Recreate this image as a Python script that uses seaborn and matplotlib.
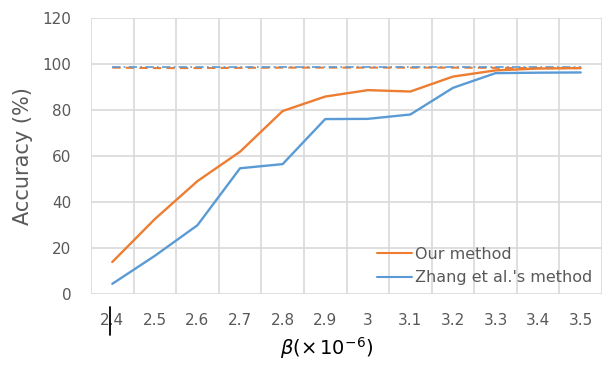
import matplotlib
matplotlib.use("Agg")
import matplotlib.pyplot as plt
import matplotlib.transforms as mtransforms
import numpy as np
import pandas as pd
import seaborn as sns

# beta values (x 10^-6) used as categories
beta_labels = ["2.4", "2.5", "2.6", "2.7", "2.8", "2.9", "3", "3.1", "3.2", "3.3", "3.4", "3.5"]

# accuracy (%) of each method
ours = [13.8, 32.5, 49.0, 61.8, 79.5, 85.8, 88.6, 88.0, 94.5, 97.2, 98.0, 98.2]
zhang = [4.3, 16.5, 29.8, 54.6, 56.4, 76.0, 76.1, 78.0, 89.6, 96.0, 96.2, 96.3]

# reference accuracy levels (dashed guides)
ours_ref = [98.4, 98.2, 98.2, 98.3, 98.4, 98.4, 98.4, 98.4, 98.4, 98.3, 98.2, 98.2]
zhang_ref = [98.8, 98.8, 98.8, 98.8, 98.8, 98.8, 98.8, 98.8, 98.8, 98.8, 98.8, 98.8]

ORANGE = "#ED7D31"
BLUE = "#5B9BD5"
GRID = "#D9D9D9"
TEXT = "#595959"

sns.set_theme(style="white")
plt.rcParams["font.family"] = ["DejaVu Sans"]
plt.rcParams["mathtext.fontset"] = "dejavusans"

pos = np.arange(len(beta_labels))
df = pd.DataFrame({
    "pos": np.concatenate([pos, pos]),
    "acc": np.concatenate([ours, zhang]),
    "method": ["Our method"] * len(pos) + ["Zhang et al.'s method"] * len(pos),
})
ref = pd.DataFrame({"pos": pos, "ours_ref": ours_ref, "zhang_ref": zhang_ref})

fig = plt.figure(figsize=(6.07, 3.68), dpi=100)
ax = fig.add_axes([91 / 607, 1 - 293.7 / 368, 511 / 607, (293.7 - 18) / 368])

# dashed reference levels
sns.lineplot(data=ref, x="pos", y="ours_ref", ax=ax, color=ORANGE, lw=1.5,
             linestyle=(0, (4, 2.5)), legend=False, zorder=3)
sns.lineplot(data=ref, x="pos", y="zhang_ref", ax=ax, color=BLUE, lw=1.2,
             linestyle=(0, (5, 2, 1, 2)), legend=False, zorder=3)

# main accuracy curves
sns.lineplot(data=df, x="pos", y="acc", hue="method", ax=ax,
             palette={"Our method": ORANGE, "Zhang et al.'s method": BLUE},
             lw=1.7, zorder=4)

ax.set_xlim(-0.5, len(pos) - 0.5)
ax.set_ylim(0, 120)
ax.set_yticks(np.arange(0, 121, 20))
ax.set_xticks(pos)
ax.set_xticklabels(beta_labels)
ax.set_xticks(np.arange(-0.5, len(pos), 1.0), minor=True)

ax.grid(False)
ax.yaxis.grid(True, color=GRID, lw=1.2)
ax.xaxis.grid(True, which="minor", color=GRID, lw=1.2)
for s in ax.spines.values():
    s.set_visible(False)

ax.tick_params(axis="both", which="both", length=0)
ax.tick_params(axis="x", which="major", pad=14, labelsize=11, labelcolor=TEXT)
ax.tick_params(axis="y", pad=14, labelsize=11, labelcolor=TEXT)

ax.set_ylabel("Accuracy (%)", fontsize=15, color=TEXT)
ax.yaxis.label.set_va("center")
ax.yaxis.set_label_coords((23 - 91) / 511, (293.7 - 156) / 275.7)
ax.set_xlabel(r"$\beta(\times\,10^{-6})$", fontsize=14, color="black")
ax.xaxis.label.set_va("center")
ax.xaxis.set_label_coords((327 - 91) / 511, -(348 - 293.7) / 275.7)

handles, labels = ax.get_legend_handles_labels()
leg = ax.legend(handles=handles, labels=labels, loc="lower right",
                bbox_to_anchor=(1.0, -0.005), frameon=False, fontsize=11.5,
                handlelength=2.2, handletextpad=0.2, labelspacing=0.55,
                borderaxespad=0.2)
for t in leg.get_texts():
    t.set_color(TEXT)
for h in leg.get_lines():
    h.set_linewidth(1.5)

# text cursor mark beside the first tick label
trans = mtransforms.blended_transform_factory(ax.transData, ax.transAxes)
ax.plot([-0.05, -0.05], [-(307 - 293.7) / 275.7, -(335 - 293.7) / 275.7],
        color="black", lw=1.3, transform=trans, clip_on=False)

fig.savefig("out.png", dpi=100)
